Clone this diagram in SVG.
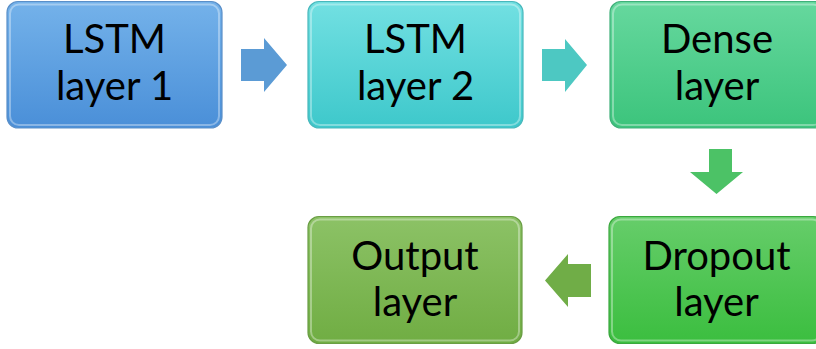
<svg xmlns="http://www.w3.org/2000/svg" width="816" height="349" viewBox="0 0 816 349">
<defs>
<linearGradient id="g1" x1="0" y1="0" x2="0" y2="1"><stop offset="0" stop-color="#74b2ea"/><stop offset="1" stop-color="#4a8fd8"/></linearGradient>
<linearGradient id="g2" x1="0" y1="0" x2="0" y2="1"><stop offset="0" stop-color="#72e0e2"/><stop offset="1" stop-color="#3ec8cb"/></linearGradient>
<linearGradient id="g3" x1="0" y1="0" x2="0" y2="1"><stop offset="0" stop-color="#66d89e"/><stop offset="1" stop-color="#3cc47c"/></linearGradient>
<linearGradient id="g4" x1="0" y1="0" x2="0" y2="1"><stop offset="0" stop-color="#66cd6a"/><stop offset="1" stop-color="#3bbe3f"/></linearGradient>
<linearGradient id="g5" x1="0" y1="0" x2="0" y2="1"><stop offset="0" stop-color="#8cc266"/><stop offset="1" stop-color="#70ad43"/></linearGradient>
</defs>
<style>
.box{stroke-width:1.2;}
.hl{fill:none;stroke:#ffffff;stroke-opacity:0.35;stroke-width:2;}
.t{font-family:Lato,"Open Sans",sans-serif;font-size:40px;fill:#000;text-anchor:middle;}
</style>
<g id="lstm1">
<rect class="box" x="7" y="1.5" width="215" height="126.5" rx="11" fill="url(#g1)" stroke="#5a8fc8"/>
<rect class="hl" x="10" y="4.5" width="209" height="120.5" rx="9"/>
<text class="t" x="114.5" y="53">LSTM</text>
<text class="t" x="114.5" y="100">layer 1</text>
</g>
<g id="lstm2">
<rect class="box" x="308" y="1.5" width="215" height="126.5" rx="11" fill="url(#g2)" stroke="#48b8bc"/>
<rect class="hl" x="311" y="4.5" width="209" height="120.5" rx="9"/>
<text class="t" x="415.5" y="53">LSTM</text>
<text class="t" x="415.5" y="100">layer 2</text>
</g>
<g id="dense">
<rect class="box" x="610" y="1.5" width="215" height="126.5" rx="11" fill="url(#g3)" stroke="#40b07a"/>
<rect class="hl" x="613" y="4.5" width="209" height="120.5" rx="9"/>
<text class="t" x="717" y="53">Dense</text>
<text class="t" x="717" y="100">layer</text>
</g>
<g id="dropout">
<rect class="box" x="609" y="216.5" width="215" height="127" rx="11" fill="url(#g4)" stroke="#3aa83e"/>
<rect class="hl" x="612" y="219.5" width="209" height="121" rx="9"/>
<text class="t" x="716.5" y="270">Dropout</text>
<text class="t" x="716.5" y="316">layer</text>
</g>
<g id="output">
<rect class="box" x="308" y="216.5" width="214" height="127" rx="11" fill="url(#g5)" stroke="#6a9e44"/>
<rect class="hl" x="311" y="219.5" width="208" height="121" rx="9"/>
<text class="t" x="415" y="270">Output</text>
<text class="t" x="415" y="316">layer</text>
</g>
<g id="connectors">
<polygon points="241,49 264,49 264,38 287,65 264,92 264,81 241,81" fill="#5b9bd5"/>
<polygon points="542,49 565,49 565,39 587,65 565,92 565,81 542,81" fill="#4dc8c2"/>
<polygon points="709,149 732,149 732,172 743,172 716.5,194 690,172 709,172" fill="#4cc266"/>
<polygon points="591,264 568,264 568,254 545,280.5 568,307 568,297 591,297" fill="#70ad47"/>
</g>
</svg>
